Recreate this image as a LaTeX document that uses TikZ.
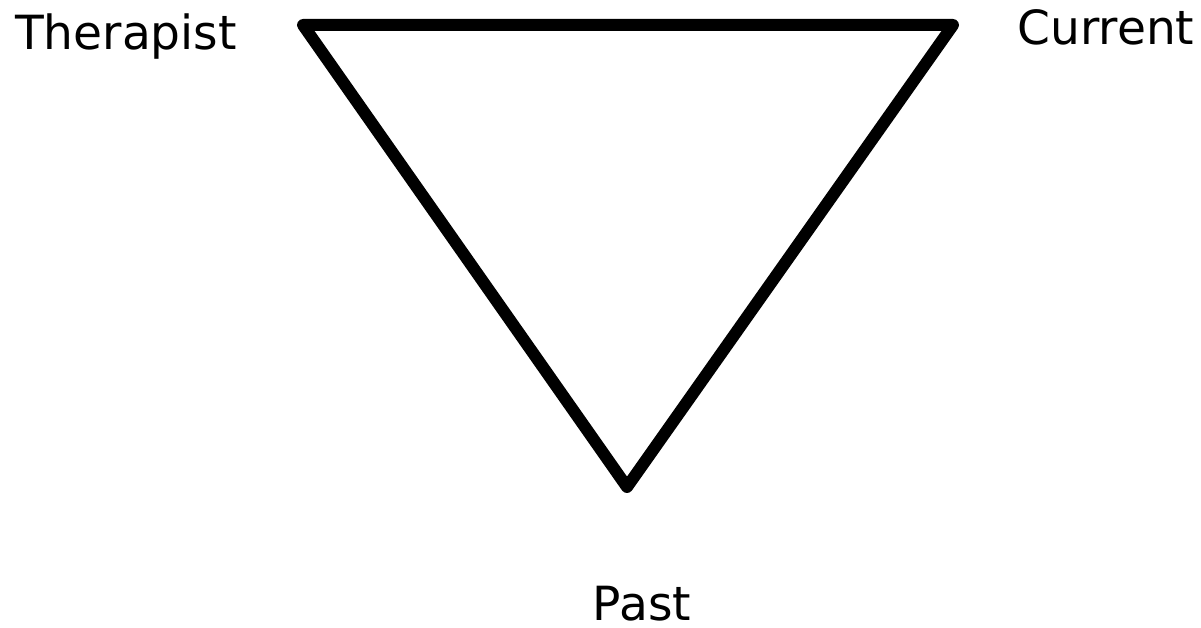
\documentclass[tikz,border=0pt]{standalone}
\usepackage{fontspec}
\setmainfont{DejaVu Sans}
\usetikzlibrary{positioning}

\begin{document}
\begin{tikzpicture}[
        x=0.02cm, y=-0.02cm,
        corner_label/.style={anchor=base, inner sep=0pt, font=\fontsize{26.8}{32}\selectfont},
        triangle_edge/.style={draw=black, line width=0.24cm, line join=round, line cap=round}
    ]
        \useasboundingbox (0,0) rectangle (1201,628);

        % Corners
        \coordinate (therapist_corner) at (303,25);
        \coordinate (current_corner) at (953,25);
        \coordinate (past_corner) at (627,487);

        % Labels
        \node (therapist) [corner_label] at (126,50) {Therapist};
        \node (current) [corner_label] at (1106,45) {Current};
        \node (past) [corner_label] at (642,620) {Past};

        % Triangle
        \draw [triangle_edge] (therapist_corner) -- (current_corner) -- (past_corner) -- cycle;
    \end{tikzpicture}
\end{document}
